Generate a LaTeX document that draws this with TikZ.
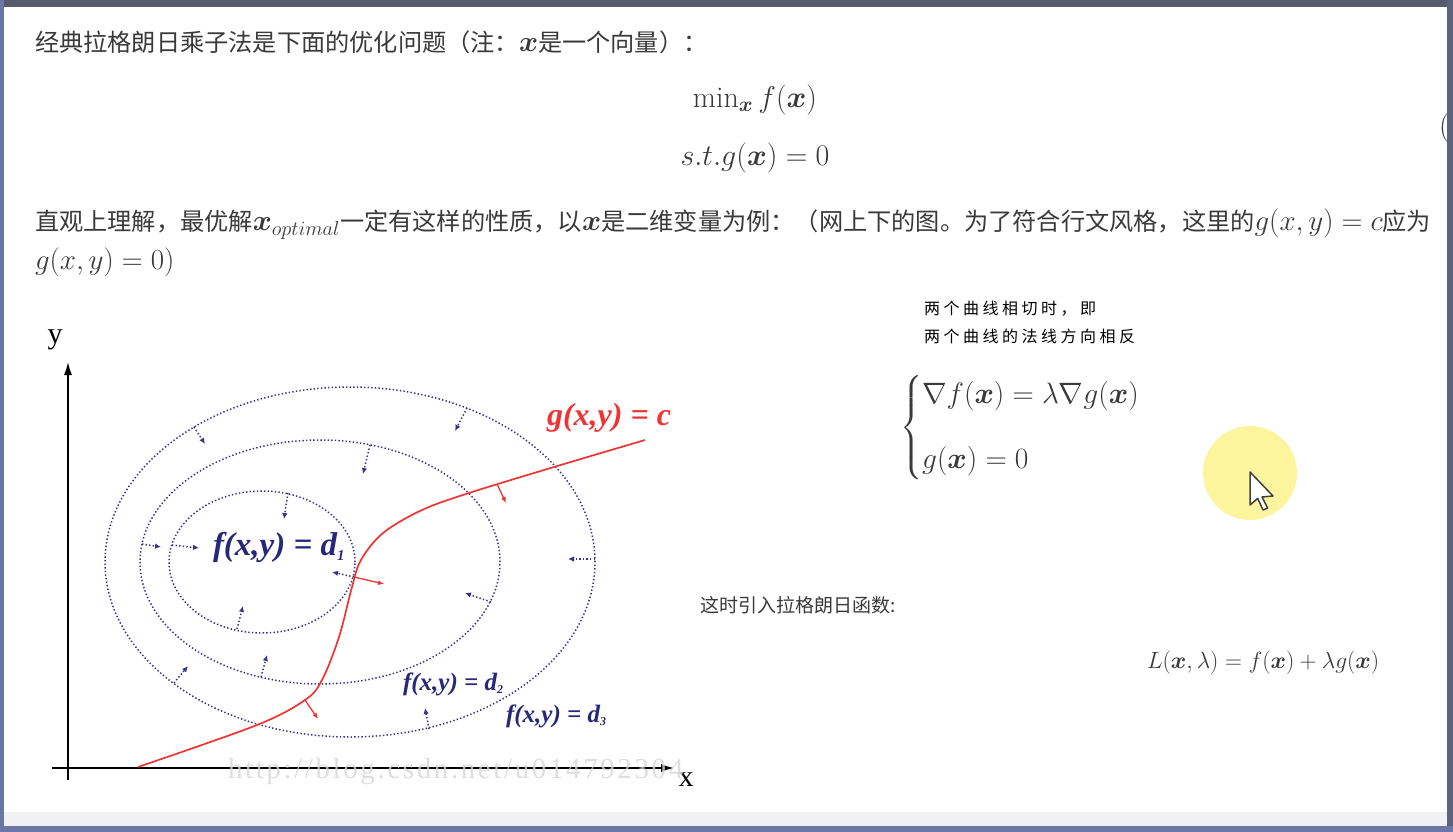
\documentclass[tikz,border=0pt]{standalone}
\usepackage{fix-cm}
\usepackage{amsmath,bm}
\usepackage{fontspec}
\newfontfamily\cjk{Noto Sans CJK SC}
\newfontfamily\cjknote[LetterSpace=22]{Noto Sans CJK SC}
\newfontfamily\tms{Liberation Serif}
\newfontfamily\tmswide[LetterSpace=9]{Liberation Serif}
\newcommand{\mymt}[1]{{\fontsize{29}{32}\selectfont$#1$}}
\usetikzlibrary{arrows.meta}
\definecolor{framedark}{RGB}{87,91,108}
\definecolor{frameblue}{RGB}{106,118,165}
\definecolor{lightband}{RGB}{241,241,243}
\definecolor{textgray}{RGB}{58,58,58}
\definecolor{navyline}{RGB}{52,52,140}
\definecolor{navytext}{RGB}{40,40,120}
\definecolor{curvered}{RGB}{240,52,52}
\definecolor{wmgray}{RGB}{214,214,214}
\definecolor{hiyellow}{RGB}{253,245,158}
\tikzset{
  every node/.style={inner sep=0pt, outer sep=0pt},
  pagetext/.style={anchor=west, text=textgray, font=\cjk\fontsize{24.2}{28}\selectfont},
  mathtext/.style={text=textgray, font=\fontsize{30}{34}\selectfont},
  level/.style={draw=navyline, line width=1.5pt, dash pattern=on 1.4pt off 2.2pt},
  gradf/.style={draw=navyline, line width=1.5pt, dash pattern=on 1.4pt off 2.2pt, -{Latex[length=6pt,width=5.5pt]}},
  gradg/.style={draw=curvered, line width=1.3pt, -{Latex[length=6pt,width=5pt]}},
  axis/.style={draw=black, line width=1.3pt, -{Latex[length=13pt,width=8pt]}},
  flabel/.style={text=navytext, font=\tms\bfseries\itshape\fontsize{33}{36}\selectfont},
  fsmall/.style={text=navytext, font=\tms\bfseries\itshape\fontsize{25}{28}\selectfont},
}
\begin{document}
\begin{tikzpicture}[x=1pt, y=-1pt]
\path[use as bounding box] (0,0) rectangle (1453,832);
\fill[white] (0,0) rectangle (1453,832);

% page text
\node[pagetext] (l1) at (35,42) {经典拉格朗日乘子法是下面的优化问题（注：\mymt{\boldsymbol{x}}是一个向量）：};
\node[mathtext] (e1) at (755,100) {$\min_{\boldsymbol{x}} f(\boldsymbol{x})$};
\node[mathtext] (e2) at (755,158) {$s.t. g(\boldsymbol{x}) = 0$};
\node[mathtext, anchor=west] (eqno) at (1439,128) {(};
\node[pagetext] (l2) at (35,224) {直观上理解，最优解\mymt{\boldsymbol{x}_{optimal}}一定有这样的性质，以\mymt{\boldsymbol{x}}是二维变量为例：（网上下的图。为了符合行文风格，这里的\mymt{g(x,y) = c}应为};
\node[pagetext] (l3) at (35,262) {\mymt{g(x,y) = 0)}};

% right-side notes
\node[anchor=west, font=\cjknote\fontsize{16}{20}\selectfont] (n1) at (924,309) {两个曲线相切时，即};
\node[anchor=west, font=\cjknote\fontsize{16}{20}\selectfont] (n2) at (924,336) {两个曲线的法线方向相反};
\node[anchor=west, text=textgray, font=\fontsize{29.5}{34}\selectfont] (cases) at (900,428)
  {$\begin{cases}\nabla f(\boldsymbol{x}) = \lambda\nabla g(\boldsymbol{x})\\[24pt] g(\boldsymbol{x}) = 0\end{cases}$};
\node[anchor=west, text=textgray, font=\cjk\fontsize{19}{24}\selectfont] (intro) at (700,605) {这时引入拉格朗日函数:};
\node[anchor=west, text=textgray, font=\fontsize{23.5}{28}\selectfont] (lag) at (1147,663) {$L(\boldsymbol{x},\lambda) = f(\boldsymbol{x}) + \lambda g(\boldsymbol{x})$};

% cursor highlight
\fill[hiyellow] (1250,473) circle (47pt);
\coordinate (tip) at (1250,472);
\filldraw[fill=white, draw=black!75, line width=1.5pt, line join=round]
  (tip) -- ++(0,33) -- ++(7.7,-6.6) -- ++(5.3,11.6) -- ++(4.6,-2) -- ++(-5.6,-11) -- ++(11,-1) -- cycle;

% axes
\coordinate (o1) at (68,780);
\coordinate (ytip) at (68,362);
\coordinate (o2) at (52,768);
\coordinate (xtip) at (674,768);
\draw[axis] (o1) -- (ytip);
\draw[axis] (o2) -- (xtip);
\node[font=\tms\fontsize{30}{34}\selectfont] (ylab) at (55,340) {y};
\node[font=\tms\fontsize{30}{34}\selectfont] (xlab) at (686,780) {x};

% level sets
\draw[level] (350,562) ellipse [x radius=245pt, y radius=175pt];
\draw[level] (320,562) ellipse [x radius=180pt, y radius=122pt];
\draw[level] (262,562) ellipse [x radius=93pt, y radius=71pt];

% gradient of f arrows
\coordinate (a1s) at (194,427); \coordinate (a1e) at (205,444);
\coordinate (a2s) at (467,408); \coordinate (a2e) at (455,431);
\coordinate (a3s) at (595,559); \coordinate (a3e) at (568,559);
\coordinate (a4s) at (429,729); \coordinate (a4e) at (425,708);
\coordinate (a5s) at (174,683); \coordinate (a5e) at (188,666);
\coordinate (b1s) at (370,445); \coordinate (b1e) at (363,474);
\coordinate (b2s) at (491,602); \coordinate (b2e) at (465,593);
\coordinate (b3s) at (261,677); \coordinate (b3e) at (267,655);
\coordinate (b4s) at (142,544); \coordinate (b4e) at (161,547);
\coordinate (c1s) at (288,493); \coordinate (c1e) at (284,519);
\coordinate (c2s) at (237,629); \coordinate (c2e) at (243,606);
\coordinate (c3s) at (172,545); \coordinate (c3e) at (199,548);
\coordinate (c4s) at (354,577); \coordinate (c4e) at (332,572);
\foreach \p in {a1,a2,a3,a4,a5,b1,b2,b3,b4,c1,c2,c3,c4}
  \draw[gradf] (\p s) -- (\p e);

% constraint curve
\draw[curvered, line width=1.7pt] plot[smooth, tension=0.55] coordinates
  {(138,767) (257,725) (305,700) (322,680) (339,637) (352,587) (361,560) (383,533) (422,510) (469,493) (554,467) (645,440)};
\coordinate (r1s) at (497,484); \coordinate (r1e) at (506,503);
\coordinate (r2s) at (354,577); \coordinate (r2e) at (384,584);
\coordinate (r3s) at (305,700); \coordinate (r3e) at (318,719);
\foreach \p in {r1,r2,r3}
  \draw[gradg] (\p s) -- (\p e);

% labels
\node[flabel, anchor=west] (d1) at (213,547) {f(x,y) = d\textsubscript{\fontsize{15}{15}\selectfont 1}};
\node[fsmall, anchor=west] (d2) at (403,684) {f(x,y) = d\textsubscript{\fontsize{12}{12}\selectfont 2}};
\node[fsmall, anchor=west] (d3) at (506,716) {f(x,y) = d\textsubscript{\fontsize{12}{12}\selectfont 3}};
\node[anchor=west, text=curvered, font=\tms\bfseries\itshape\fontsize{32}{36}\selectfont] (glab) at (547,418) {g(x,y) = c};

% watermark
\node[anchor=west, text=wmgray, opacity=0.8, font=\tmswide\fontsize{29}{34}\selectfont] (wm) at (228,772) {http://blog.csdn.net/u014792304};

% window frame
\fill[lightband] (4,812) rectangle (1447,826);
\fill[framedark] (0,0) rectangle (1453,7);
\fill[frameblue] (0,0) rectangle (4,832);
\fill[framedark!70!frameblue] (1447,0) rectangle (1453,832);
\fill[frameblue] (0,826) rectangle (1453,832);
\end{tikzpicture}
\end{document}
